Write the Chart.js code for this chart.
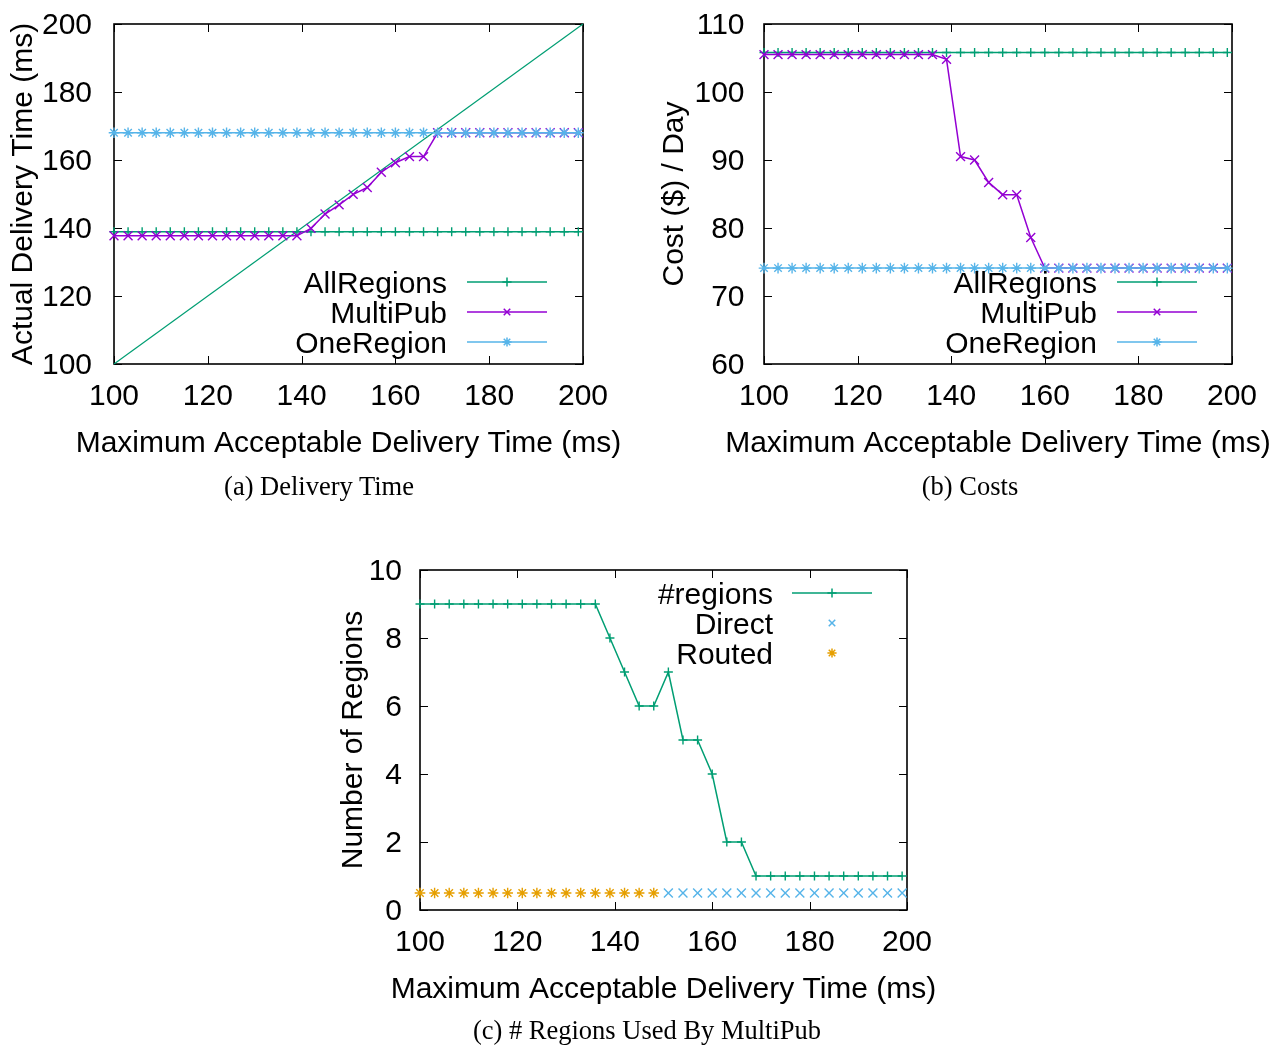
<!DOCTYPE html>
<html>
<head>
<meta charset="utf-8">
<script src="https://cdn.jsdelivr.net/npm/chart.js@4.4.1/dist/chart.umd.min.js"></script>
<style>
  html, body { margin: 0; padding: 0; background: #fff; }
  #page { position: relative; width: 1275px; height: 1045px; overflow: hidden; background: #fff; }
  #page canvas { position: absolute; left: 0; top: 0; }
  .cap { position: absolute; font-family: "Liberation Serif", "Times New Roman", serif; font-size: 26.5px; line-height: 26.5px; color: #000; white-space: nowrap; transform: translateX(-50%); }
</style>
</head>
<body>
<div id="page">
  <canvas id="chartA" width="1275" height="1045"></canvas>
  <canvas id="chartB" width="1275" height="1045"></canvas>
  <canvas id="chartC" width="1275" height="1045"></canvas>
  <div class="cap" style="left:319px; top:473px;">(a) Delivery Time</div>
  <div class="cap" style="left:970px; top:473px;">(b) Costs</div>
  <div class="cap" style="left:647px; top:1017px;">(c) # Regions Used By MultiPub</div>
</div>
<script>
// x values: maximum acceptable delivery time (ms)
const delays = [100, 103, 106, 109, 112, 115, 118, 121, 124, 127, 130, 133, 136, 139, 142, 145, 148,
                151, 154, 157, 160, 163, 166, 169, 172, 175, 178, 181, 184, 187, 190, 193, 196, 199];

// (a) actual delivery time (ms)
const timeAllRegions = [138.9, 138.9, 138.9, 138.9, 138.9, 138.9, 138.9, 138.9, 138.9, 138.9, 138.9, 138.9, 138.9, 138.9, 138.9, 138.9, 138.9,
                        138.9, 138.9, 138.9, 138.9, 138.9, 138.9, 138.9, 138.9, 138.9, 138.9, 138.9, 138.9, 138.9, 138.9, 138.9, 138.9, 138.9];
const timeMultiPub = [137.7, 137.7, 137.7, 137.7, 137.7, 137.7, 137.7, 137.7, 137.7, 137.7, 137.7, 137.7, 137.7, 137.7, 139.9, 144.1, 146.8,
                      149.9, 151.9, 156.4, 159.2, 161, 161, 168, 168, 168, 168, 168, 168, 168, 168, 168, 168, 168];
const timeOneRegion = [168, 168, 168, 168, 168, 168, 168, 168, 168, 168, 168, 168, 168, 168, 168, 168, 168,
                       168, 168, 168, 168, 168, 168, 168, 168, 168, 168, 168, 168, 168, 168, 168, 168, 168];
const idealX = [100, 200];
const idealY = [100, 200];

// (b) cost ($) per day
const costAllRegions = [105.8, 105.8, 105.8, 105.8, 105.8, 105.8, 105.8, 105.8, 105.8, 105.8, 105.8, 105.8, 105.8, 105.8, 105.8, 105.8, 105.8,
                        105.8, 105.8, 105.8, 105.8, 105.8, 105.8, 105.8, 105.8, 105.8, 105.8, 105.8, 105.8, 105.8, 105.8, 105.8, 105.8, 105.8];
const costMultiPub = [105.5, 105.5, 105.5, 105.5, 105.5, 105.5, 105.5, 105.5, 105.5, 105.5, 105.5, 105.5, 105.5, 104.8, 90.5, 90.0, 86.7,
                      84.9, 84.9, 78.6, 74.1, 74.1, 74.1, 74.1, 74.1, 74.1, 74.1, 74.1, 74.1, 74.1, 74.1, 74.1, 74.1, 74.1];
const costOneRegion = [74.1, 74.1, 74.1, 74.1, 74.1, 74.1, 74.1, 74.1, 74.1, 74.1, 74.1, 74.1, 74.1, 74.1, 74.1, 74.1, 74.1,
                       74.1, 74.1, 74.1, 74.1, 74.1, 74.1, 74.1, 74.1, 74.1, 74.1, 74.1, 74.1, 74.1, 74.1, 74.1, 74.1, 74.1];

// (c) number of regions used by MultiPub
const regionCount = [9, 9, 9, 9, 9, 9, 9, 9, 9, 9, 9, 9, 9, 8, 7, 6, 6,
                     7, 5, 5, 4, 2, 2, 1, 1, 1, 1, 1, 1, 1, 1, 1, 1, 1];
const directMark = [null, null, null, null, null, null, null, null, null, null, null, null, null, null, null, null, null,
                    0.5, 0.5, 0.5, 0.5, 0.5, 0.5, 0.5, 0.5, 0.5, 0.5, 0.5, 0.5, 0.5, 0.5, 0.5, 0.5, 0.5];
const routedMark = [0.5, 0.5, 0.5, 0.5, 0.5, 0.5, 0.5, 0.5, 0.5, 0.5, 0.5, 0.5, 0.5, 0.5, 0.5, 0.5, 0.5,
                    null, null, null, null, null, null, null, null, null, null, null, null, null, null, null, null, null];

const GREEN = '#009e73', PURPLE = '#9400d3', BLUE = '#56b4e9', ORANGE = '#e69f00';
const SANS = '"Liberation Sans", Arial, Helvetica, sans-serif';

Chart.defaults.font.family = SANS;
Chart.defaults.font.size = 30;
Chart.defaults.color = '#000';

function pts(xs, ys) {
  const out = [];
  xs.forEach((x, i) => { if (ys[i] !== null) out.push({ x: x, y: ys[i] }); });
  return out;
}

function mark(ctx, style, x, y, r) {
  const d = r * 0.7071;
  ctx.beginPath();
  if (style === 'cross' || style === 'star') {
    ctx.moveTo(x - r, y); ctx.lineTo(x + r, y);
    ctx.moveTo(x, y - r); ctx.lineTo(x, y + r);
  }
  if (style === 'crossRot' || style === 'star') {
    ctx.moveTo(x - d, y - d); ctx.lineTo(x + d, y + d);
    ctx.moveTo(x - d, y + d); ctx.lineTo(x + d, y - d);
  }
  ctx.stroke();
}

// gnuplot-like frame, inward ticks, axis titles and key
const gnuplotLook = {
  id: 'gnuplotLook',
  beforeDatasetsDraw(chart) {
    const { ctx, chartArea: a, scales } = chart;
    ctx.save();
    ctx.strokeStyle = '#000';
    ctx.lineWidth = 1;
    scales.x.ticks.forEach(t => {
      const px = Math.round(scales.x.getPixelForValue(t.value)) + 0.5;
      ctx.beginPath();
      ctx.moveTo(px, a.bottom); ctx.lineTo(px, a.bottom - 8);
      ctx.moveTo(px, a.top); ctx.lineTo(px, a.top + 8);
      ctx.stroke();
    });
    scales.y.ticks.forEach(t => {
      const py = Math.round(scales.y.getPixelForValue(t.value)) + 0.5;
      ctx.beginPath();
      ctx.moveTo(a.left, py); ctx.lineTo(a.left + 8, py);
      ctx.moveTo(a.right, py); ctx.lineTo(a.right - 8, py);
      ctx.stroke();
    });
    ctx.lineWidth = 1.6;
    ctx.strokeRect(a.left, a.top, a.right - a.left, a.bottom - a.top);
    ctx.restore();
  },
  afterDatasetsDraw(chart, args, opts) {
    const { ctx, chartArea: a } = chart;
    ctx.save();
    ctx.fillStyle = '#000';
    ctx.font = '30px ' + SANS;
    // x title
    ctx.textAlign = 'center';
    ctx.textBaseline = 'alphabetic';
    ctx.fillText(opts.xTitle, (a.left + a.right) / 2, a.bottom + 88);
    // y title
    ctx.save();
    ctx.translate(opts.yTitleX, (a.top + a.bottom) / 2);
    ctx.rotate(-Math.PI / 2);
    ctx.fillText(opts.yTitle, 0, 0);
    ctx.restore();
    // key
    const k = opts.key;
    let row = 0;
    chart.data.datasets.forEach(ds => {
      if (ds.inKey === false) return;
      const y = k.top + row * 30;
      ctx.fillStyle = '#000';
      ctx.textAlign = 'right';
      ctx.fillText(ds.label, k.textRight, y + 10.7);
      ctx.strokeStyle = ds.borderColor;
      ctx.lineWidth = 1.5;
      if (ds.showLine !== false) {
        ctx.beginPath();
        ctx.moveTo(k.lineLeft, y); ctx.lineTo(k.lineRight, y);
        ctx.stroke();
      }
      mark(ctx, ds.pointStyle, (k.lineLeft + k.lineRight) / 2, y, 4.6);
      row++;
    });
    ctx.restore();
  }
};

function series(label, xs, ys, color, style, radius, order, line) {
  return {
    label: label,
    data: pts(xs, ys),
    borderColor: color,
    backgroundColor: color,
    borderWidth: 1.5,
    pointStyle: style,
    pointRadius: radius,
    pointBorderWidth: 1.4,
    pointBorderColor: color,
    showLine: line,
    clip: false,
    order: order
  };
}

function makeChart(id, box, yMin, yMax, yStep, yPad, datasets, titles) {
  return new Chart(document.getElementById(id), {
    type: 'line',
    data: { datasets: datasets },
    options: {
      responsive: false,
      animation: false,
      devicePixelRatio: 1,
      events: [],
      layout: { autoPadding: false, padding: { left: 0, top: box.top, right: 1275 - box.right, bottom: 0 } },
      scales: {
        x: {
          type: 'linear', min: 100, max: 200,
          grid: { display: false, drawTicks: false },
          border: { display: false },
          ticks: { stepSize: 20, padding: 15, maxRotation: 0, autoSkip: false },
          afterFit: s => { s.height = 1045 - box.bottom; s.paddingLeft = 0; s.paddingRight = 0; }
        },
        y: {
          type: 'linear', min: yMin, max: yMax,
          grid: { display: false, drawTicks: false },
          border: { display: false },
          ticks: { stepSize: yStep, padding: yPad, labelOffset: 2 },
          afterFit: s => { s.width = box.left; s.paddingTop = 0; s.paddingBottom = 0; }
        }
      },
      plugins: {
        legend: { display: false },
        tooltip: { enabled: false },
        gnuplotLook: titles
      }
    },
    plugins: [gnuplotLook]
  });
}

const xTitle = 'Maximum Acceptable Delivery Time (ms)';

const ideal = {
  label: 'x', data: pts(idealX, idealY), borderColor: GREEN, borderWidth: 1.2,
  pointRadius: 0, showLine: true, clip: false, order: 3, inKey: false
};

makeChart('chartA', { left: 114, right: 583, top: 24, bottom: 364 }, 100, 200, 20, 22, [
  ideal,
  series('AllRegions', delays, timeAllRegions, GREEN, 'cross', 4.5, 2, true),
  series('MultiPub', delays, timeMultiPub, PURPLE, 'crossRot', 6.3, 1, true),
  series('OneRegion', delays, timeOneRegion, BLUE, 'star', 5.3, 0, true)
], { xTitle: xTitle, yTitle: 'Actual Delivery Time (ms)', yTitleX: 32,
     key: { top: 282, textRight: 447, lineLeft: 467, lineRight: 547 } });

makeChart('chartB', { left: 764, right: 1232, top: 24, bottom: 364 }, 60, 110, 10, 19.5, [
  series('AllRegions', delays, costAllRegions, GREEN, 'cross', 4.5, 2, true),
  series('MultiPub', delays, costMultiPub, PURPLE, 'crossRot', 6.3, 1, true),
  series('OneRegion', delays, costOneRegion, BLUE, 'star', 5.3, 0, true)
], { xTitle: xTitle, yTitle: 'Cost ($) / Day', yTitleX: 683,
     key: { top: 282, textRight: 1097, lineLeft: 1117, lineRight: 1197 } });

makeChart('chartC', { left: 420, right: 907, top: 570, bottom: 910 }, 0, 10, 2, 18, [
  series('#regions', delays, regionCount, GREEN, 'cross', 4.5, 2, true),
  series('Direct', delays, directMark, BLUE, 'crossRot', 6.3, 1, false),
  series('Routed', delays, routedMark, ORANGE, 'star', 5.3, 0, false)
], { xTitle: xTitle, yTitle: 'Number of Regions', yTitleX: 362,
     key: { top: 593, textRight: 773, lineLeft: 792, lineRight: 872 } });
</script>
</body>
</html>
